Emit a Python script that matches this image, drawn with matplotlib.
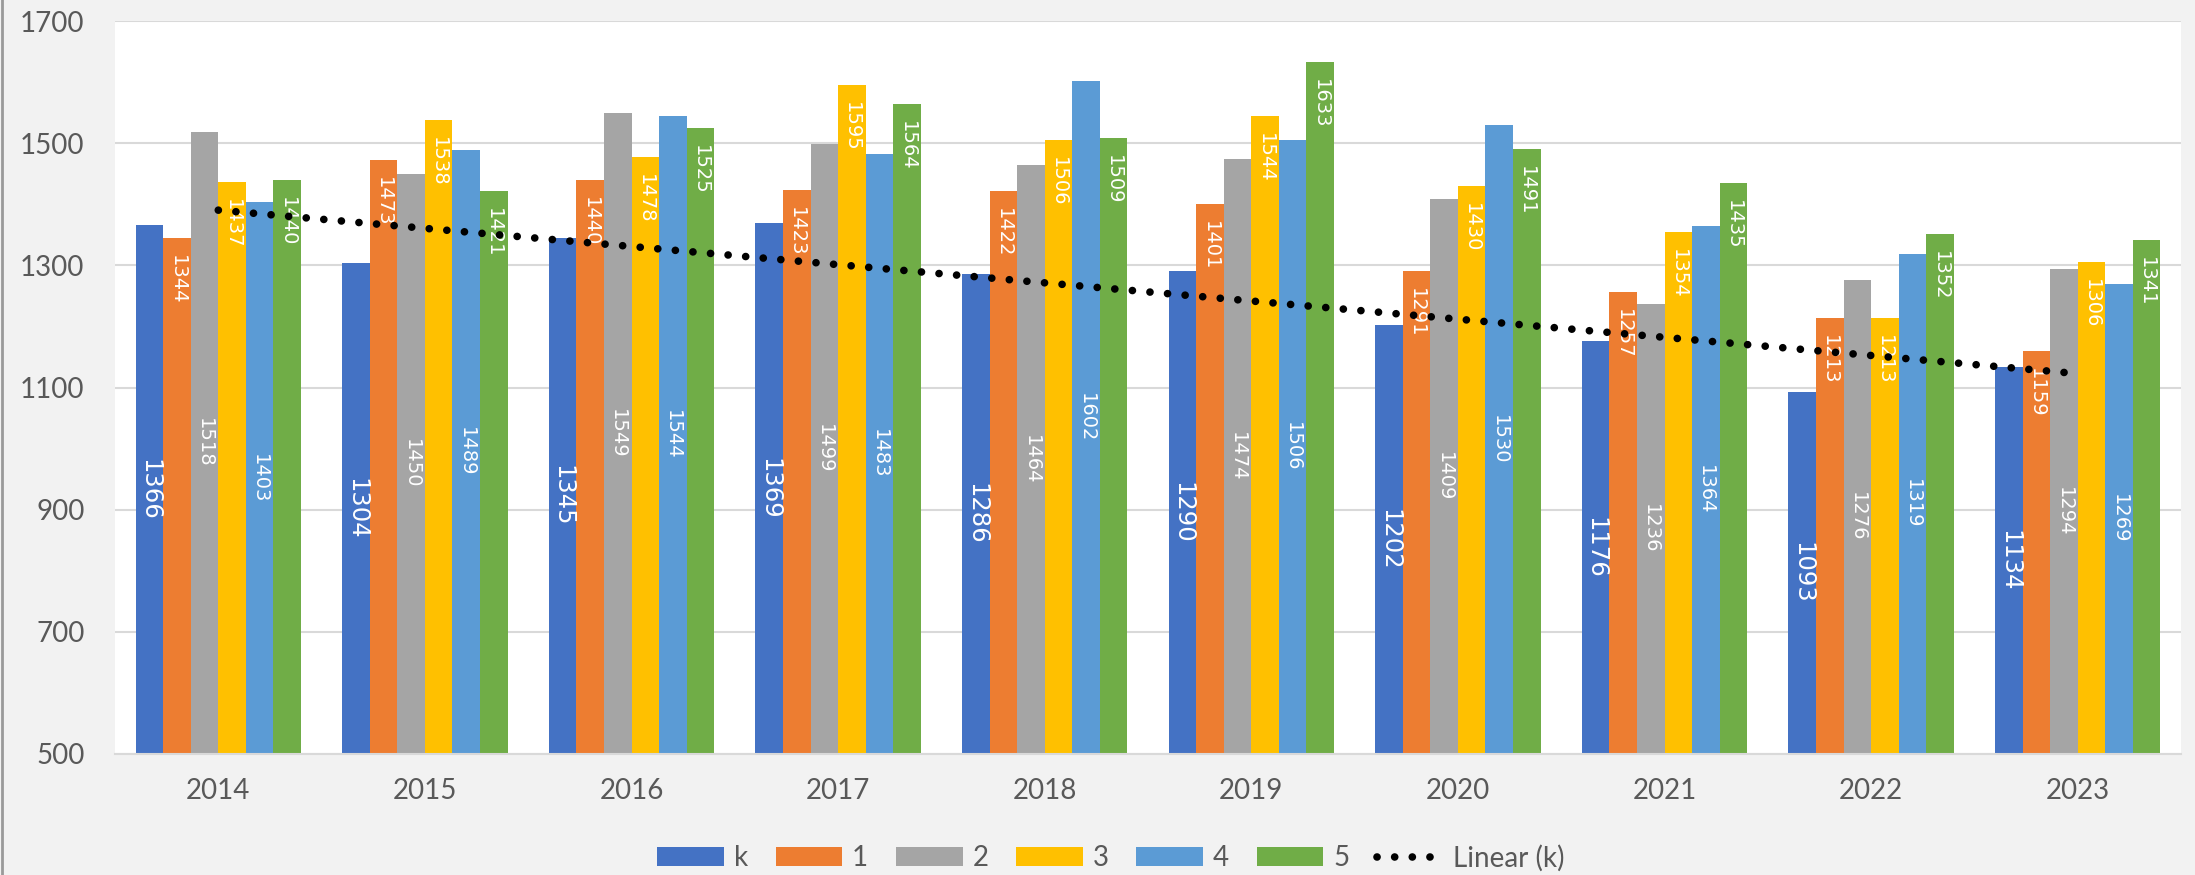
import numpy as np
import matplotlib
matplotlib.use('Agg')
import matplotlib.pyplot as plt
from matplotlib.lines import Line2D
from matplotlib.patches import Patch

# data
years = ['2014', '2015', '2016', '2017', '2018', '2019', '2020', '2021', '2022', '2023']
series_names = ['k', '1', '2', '3', '4', '5']
k_vals = [1366, 1304, 1345, 1369, 1286, 1290, 1202, 1176, 1093, 1134]
s1_vals = [1344, 1473, 1440, 1423, 1422, 1401, 1291, 1257, 1213, 1159]
s2_vals = [1518, 1450, 1549, 1499, 1464, 1474, 1409, 1236, 1276, 1294]
s3_vals = [1437, 1538, 1478, 1595, 1506, 1544, 1430, 1354, 1213, 1306]
s4_vals = [1403, 1489, 1544, 1483, 1602, 1506, 1530, 1364, 1319, 1269]
s5_vals = [1440, 1421, 1525, 1564, 1509, 1633, 1491, 1435, 1352, 1341]
yticks = [500, 700, 900, 1100, 1300, 1500, 1700]

all_vals = [k_vals, s1_vals, s2_vals, s3_vals, s4_vals, s5_vals]
colors = ['#4472C4', '#ED7D31', '#A5A5A5', '#FFC000', '#5B9BD5', '#70AD47']
label_pos = ['center', 'end', 'center', 'end', 'center', 'end']
label_size = [17.5, 14, 14, 14, 14, 14]

txt_col = '#595959'
tick_font = 'Lato'
ymin, ymax = 500, 1700

fig = plt.figure(figsize=(21.95, 8.75), dpi=100, facecolor='#f2f2f2')
ax = fig.add_axes([115/2195, 1-754/875, (2181-115)/2195, (754-21)/875])
ax.set_facecolor('white')

x = np.arange(len(years))
nser = len(all_vals)
bw = 0.8 / nser

for i, (vals, col) in enumerate(zip(all_vals, colors)):
    xs = x - 0.4 + bw*(i + 0.5)
    ax.bar(xs, vals, width=bw, color=col, zorder=2, linewidth=0)
    for xi, v in zip(xs, vals):
        if label_pos[i] == 'center':
            ax.text(xi, (ymin + v)/2, str(v), rotation=270, ha='center', va='center',
                    color='white', fontsize=label_size[i], family='DejaVu Sans', zorder=3)
        else:
            ax.annotate(str(v), (xi, v), xytext=(0, -17), textcoords='offset pixels',
                        rotation=270, ha='center', va='top', color='white',
                        fontsize=label_size[i], family='DejaVu Sans', zorder=3)

# linear trend of k
coef = np.polyfit(x, k_vals, 1)
trend = np.polyval(coef, x)
ax.plot(x, trend, color='black', lw=5.5, linestyle=(0, (0.01, 2.3)),
        dash_capstyle='round', zorder=4)

ax.set_ylim(ymin, ymax)
ax.set_xlim(-0.5, len(years) - 0.5)
ax.set_yticks(yticks)
ax.set_yticklabels([str(t) for t in yticks], family=tick_font, fontsize=20, color=txt_col)
ax.set_xticks(x)
ax.set_xticklabels(years, family=tick_font, fontsize=20, color=txt_col)
ax.tick_params(axis='both', length=0)
ax.tick_params(axis='y', pad=22)
ax.tick_params(axis='x', pad=17)
ax.grid(axis='y', color='#d9d9d9', lw=1.5, zorder=0)
ax.set_axisbelow(True)
for s in ['top', 'right', 'left']:
    ax.spines[s].set_visible(False)
ax.spines['bottom'].set_color('#d9d9d9')
ax.spines['bottom'].set_linewidth(1.5)

handles = [Patch(facecolor=c, edgecolor='none') for c in colors]
handles.append(Line2D([0], [0], color='black', lw=5.5, linestyle=(0, (0.01, 2.3)),
                      dash_capstyle='round'))
labels = series_names + ['Linear (k)']
leg = fig.legend(handles, labels, loc='center', bbox_to_anchor=(1111/2195, 1-858/875),
                 ncol=7, frameon=False, prop={'family': tick_font, 'size': 20},
                 handlelength=2.4, handleheight=0.65, handletextpad=0.35,
                 columnspacing=1.0)
for t in leg.get_texts():
    t.set_color(txt_col)

# thin frame line at the left edge
fig.add_artist(Line2D([0.0007, 0.0007], [0, 1], color='#9a9a9a', lw=2,
                      transform=fig.transFigure))

fig.savefig('out.png', dpi=100, facecolor=fig.get_facecolor())
